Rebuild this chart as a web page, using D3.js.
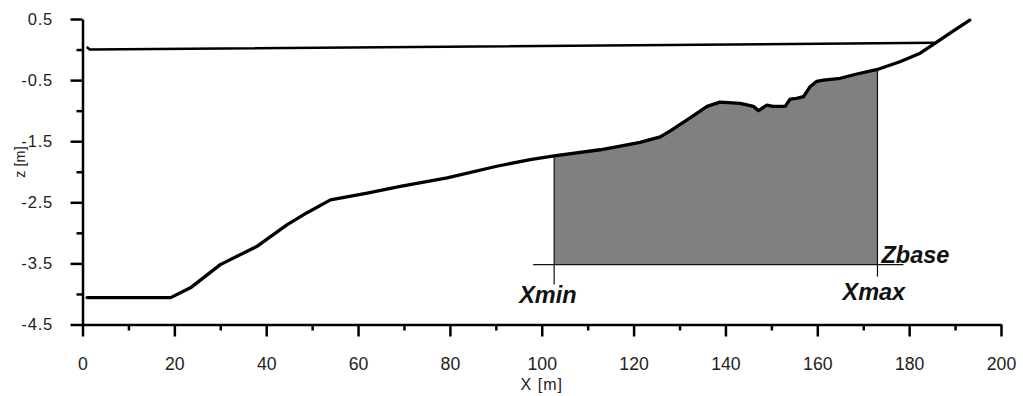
<!DOCTYPE html>
<html>
<head>
<meta charset="utf-8">
<script src="https://cdn.jsdelivr.net/npm/d3@7"></script>
<style>
  body { margin: 0; background: #fff; }
  svg { display: block; }
</style>
</head>
<body>
<svg id="chart" width="1023" height="396"></svg>
<script>
// Beach profile: distance along the transect (m) and bed elevation (m)
const profileX = [1.0, 19.2, 23.5, 30.0, 38.0, 44.5, 48.9, 54.0, 62.0, 69.2, 79.4, 90.2, 97.5, 102.7,
  112.7, 117.1, 121.4, 125.8, 128.0, 132.3, 136.0, 138.8, 143.2, 146.1, 147.2, 149.0, 150.4, 153.0,
  154.1, 155.5, 157.0, 158.4, 159.9, 161.3, 165.0, 168.6, 172.9, 178.0, 182.4, 185.6, 188.9, 193.2];
const profileZ = [-4.06, -4.06, -3.90, -3.52, -3.22, -2.87, -2.67, -2.46, -2.35, -2.24, -2.10, -1.91, -1.80, -1.74,
  -1.64, -1.58, -1.52, -1.43, -1.33, -1.12, -0.93, -0.86, -0.88, -0.93, -1.00, -0.91, -0.93, -0.93,
  -0.81, -0.80, -0.77, -0.61, -0.52, -0.50, -0.47, -0.40, -0.33, -0.20, -0.06, 0.10, 0.27, 0.48];

// Still water level
const waterX = [0.9, 1.6, 185.6];
const waterZ = [0.04, 0.0, 0.11];

// Volume window limits
const xMin = 102.7;
const xMax = 173.1;
const zBase = -3.52;

// Axis ticks
const xMajorTicks = [0, 20, 40, 60, 80, 100, 120, 140, 160, 180, 200];
const xMinorTicks = [10, 30, 50, 70, 90, 110, 130, 150, 170, 190];
const zMajorTicks = [0.5, -0.5, -1.5, -2.5, -3.5, -4.5];
const zMajorLabels = ["0.5", "-0.5", "-1.5", "-2.5", "-3.5", "-4.5"];
const zMinorTicks = [0, -1, -2, -3, -4];

const svg = d3.select("#chart");

const x = d3.scaleLinear().domain([0, 200]).range([82.5, 1001]);
const y = d3.scaleLinear().domain([-4.5, 0.5]).range([324.5, 19]);

const profile = profileX.map((v, i) => [v, profileZ[i]]);
const water = waterX.map((v, i) => [v, waterZ[i]]);

// Elevation of the profile at a given distance (for the window edges)
function profileAt(xv) {
  for (let i = 1; i < profile.length; i++) {
    if (profile[i][0] >= xv) {
      const [x0, z0] = profile[i - 1], [x1, z1] = profile[i];
      return z0 + (z1 - z0) * (xv - x0) / (x1 - x0);
    }
  }
  return profile[profile.length - 1][1];
}

// Shaded volume between Xmin and Xmax above Zbase
svg.append("clipPath").attr("id", "window")
  .append("rect")
  .attr("x", x(xMin)).attr("y", 0)
  .attr("width", x(xMax) - x(xMin)).attr("height", 396);

svg.append("path")
  .datum(profile)
  .attr("clip-path", "url(#window)")
  .attr("fill", "#808080")
  .attr("d", d3.area().x(d => x(d[0])).y0(y(zBase)).y1(d => y(d[1])));

// Zbase line and window edges
const thin = svg.append("g").attr("stroke", "#111").attr("stroke-width", 1.2).attr("fill", "none");
thin.append("line")
  .attr("x1", x(xMin) - 21).attr("x2", x(xMax) + 26)
  .attr("y1", y(zBase)).attr("y2", y(zBase));
thin.append("line")
  .attr("x1", x(xMin)).attr("x2", x(xMin))
  .attr("y1", y(profileAt(xMin))).attr("y2", y(zBase) + 20);
thin.append("line")
  .attr("x1", x(xMax)).attr("x2", x(xMax))
  .attr("y1", y(profileAt(xMax))).attr("y2", y(zBase) + 12);

// Axes
function styleAxis(g) {
  g.selectAll("path, line").attr("stroke", "#000").attr("stroke-width", 2.5);
}

const xAxisMinor = svg.append("g")
  .attr("transform", `translate(0,${y(-4.5)})`)
  .call(d3.axisBottom(x).tickValues(xMinorTicks).tickSize(6).tickSizeOuter(0).tickFormat(""));
xAxisMinor.select(".domain").remove();
styleAxis(xAxisMinor);

const xAxis = svg.append("g")
  .attr("transform", `translate(0,${y(-4.5)})`)
  .call(d3.axisBottom(x).tickValues(xMajorTicks).tickSize(12).tickSizeOuter(0).tickFormat(d3.format("d")));
styleAxis(xAxis);
xAxis.selectAll("text")
  .attr("y", 0).attr("dy", 0)
  .attr("transform", "translate(0,45) scale(0.93,1)")
  .attr("font-family", "'Liberation Sans', Arial, sans-serif")
  .attr("font-size", 19)
  .attr("fill", "#222");

const yAxisMinor = svg.append("g")
  .attr("transform", `translate(${x(0)},0)`)
  .call(d3.axisLeft(y).tickValues(zMinorTicks).tickSize(6).tickSizeOuter(0).tickFormat(""));
yAxisMinor.select(".domain").remove();
styleAxis(yAxisMinor);

const yAxis = svg.append("g")
  .attr("transform", `translate(${x(0)},0)`)
  .call(d3.axisLeft(y).tickValues(zMajorTicks).tickSize(12).tickSizeOuter(0)
    .tickFormat((d, i) => zMajorLabels[i]));
styleAxis(yAxis);
yAxis.selectAll("text")
  .attr("x", -29.5)
  .attr("font-family", "'Liberation Sans', Arial, sans-serif")
  .attr("font-size", 16.5)
  .attr("letter-spacing", 0.8)
  .attr("fill", "#222");

// Axis titles
svg.append("text")
  .attr("x", x(100)).attr("y", 390)
  .attr("text-anchor", "middle")
  .attr("font-family", "'Liberation Sans', Arial, sans-serif")
  .attr("font-size", 16)
  .attr("letter-spacing", 1)
  .attr("fill", "#222")
  .text("X [m]");

svg.append("text")
  .attr("transform", "translate(25,162) rotate(-90)")
  .attr("text-anchor", "middle")
  .attr("font-family", "'Liberation Sans', Arial, sans-serif")
  .attr("font-size", 14.5)
  .attr("fill", "#222")
  .text("z [m]");

// Water level and bed profile
const line = d3.line().x(d => x(d[0])).y(d => y(d[1]));

svg.append("path")
  .datum(water)
  .attr("fill", "none")
  .attr("stroke", "#000")
  .attr("stroke-width", 2.5)
  .attr("d", line);

svg.append("path")
  .datum(profile)
  .attr("fill", "none")
  .attr("stroke", "#000")
  .attr("stroke-width", 3.3)
  .attr("stroke-linejoin", "round")
  .attr("stroke-linecap", "round")
  .attr("d", line);

// Window labels
const labelFont = g => g
  .attr("font-family", "'Liberation Sans', Arial, sans-serif")
  .attr("font-size", 23.5)
  .attr("font-weight", "bold")
  .attr("font-style", "italic")
  .attr("fill", "#111");

svg.append("text").call(labelFont)
  .attr("x", x(xMin) - 35).attr("y", 303).text("Xmin");
svg.append("text").call(labelFont)
  .attr("x", x(xMax) - 35).attr("y", 300).text("Xmax");
svg.append("text").call(labelFont)
  .attr("x", x(xMax) + 4).attr("y", y(zBase) - 2).text("Zbase");
</script>
</body>
</html>
